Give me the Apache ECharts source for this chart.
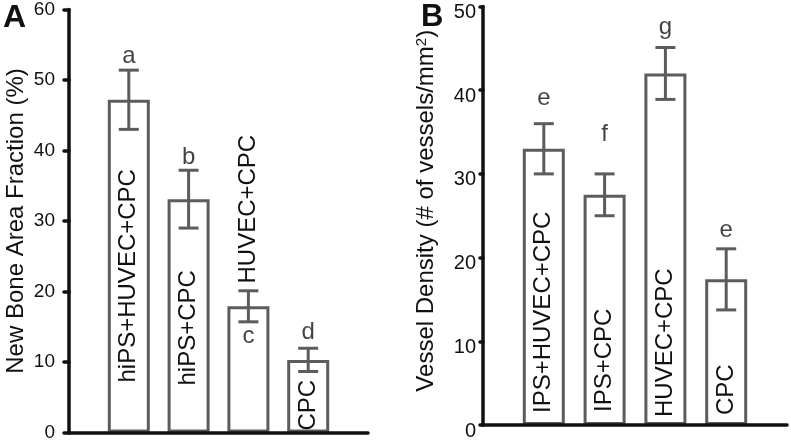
<!DOCTYPE html>
<html>
<head>
<meta charset="utf-8">
<script src="https://cdn.jsdelivr.net/npm/echarts@6/dist/echarts.min.js"></script>
<style>
html,body{margin:0;padding:0;background:#fff;}
#chart{width:791px;height:442px;}
</style>
</head>
<body>
<div id="chart"></div>
<script>
// ---- data ----
const categoriesA = ['hiPS+HUVEC+CPC', 'hiPS+CPC', 'HUVEC+CPC', 'CPC'];
const meanA = [47.2, 33.1, 17.9, 10.3];
const errA = [4.2, 4.1, 2.2, 1.65];
const lettersA = ['a', 'b', 'c', 'd'];

const categoriesB = ['IPS+HUVEC+CPC', 'IPS+CPC', 'HUVEC+CPC', 'CPC'];
const meanB = [33.0, 27.5, 42.0, 17.4];
const errB = [3.0, 2.5, 3.1, 3.65];
const lettersB = ['e', 'f', 'g', 'e'];

const yTicksA = [0, 10, 20, 30, 40, 50, 60];
const yTicksB = [0, 10, 20, 30, 40, 50];

const yNameA = 'New Bone Area Fraction (%)';
const yNameB = 'Vessel Density (# of vessels/mm{sup|2})';

// ---- styling ----
const FONT = '"Liberation Sans", Arial, Helvetica, sans-serif';
const GRAY = '#5c5c5c';
const BLACK = '#111';

const chart = echarts.init(document.getElementById('chart'), null, {renderer: 'canvas'});

function errorSeries(means, errs, axisIdx) {
  return {
    type: 'custom',
    xAxisIndex: axisIdx, yAxisIndex: axisIdx,
    z: 4,
    data: means.map((m, i) => [i, m + errs[i], m - errs[i]]),
    renderItem: function (params, api) {
      const hi = api.coord([api.value(0), api.value(1)]);
      const lo = api.coord([api.value(0), api.value(2)]);
      const hw = 10;
      const st = {stroke: GRAY, lineWidth: 3};
      return {
        type: 'group',
        children: [
          {type: 'line', shape: {x1: hi[0], y1: hi[1], x2: lo[0], y2: lo[1]}, style: st},
          {type: 'line', shape: {x1: hi[0] - hw, y1: hi[1], x2: hi[0] + hw, y2: hi[1]}, style: st},
          {type: 'line', shape: {x1: lo[0] - hw, y1: lo[1], x2: lo[0] + hw, y2: lo[1]}, style: st}
        ]
      };
    }
  };
}

function barSeries(cats, means, axisIdx, dists) {
  return {
    type: 'bar',
    xAxisIndex: axisIdx, yAxisIndex: axisIdx,
    barWidth: 42,
    z: 2,
    itemStyle: {color: '#fff', borderColor: GRAY, borderWidth: 3},
    label: {
      show: true, position: 'insideBottom', rotate: 90, align: 'left', verticalAlign: 'middle',
      fontFamily: FONT, fontSize: 24, color: BLACK,
      formatter: p => cats[p.dataIndex]
    },
    data: means.map((m, i) => ({value: m, label: {distance: dists[i]}}))
  };
}

function letterSeries(letters, means, errs, axisIdx, places) {
  return {
    type: 'scatter',
    xAxisIndex: axisIdx, yAxisIndex: axisIdx,
    symbolSize: 1,
    itemStyle: {color: 'rgba(0,0,0,0)'},
    z: 6,
    label: {
      show: true, fontFamily: FONT, fontSize: 24, color: BLACK,
      formatter: p => letters[p.dataIndex]
    },
    data: means.map((m, i) => ({
      value: [i, places[i].pos === 'bottom' ? m - errs[i] : m + errs[i]],
      label: {position: places[i].pos, distance: places[i].d}
    }))
  };
}

const axisLineStyle = {color: BLACK, width: 3.5, cap: 'round'};

const option = {
  backgroundColor: '#fff',
  animation: false,
  title: [
    {text: 'A', left: 3, top: 2, padding: 0, textStyle: {fontFamily: FONT, fontSize: 32, fontWeight: 'bold', color: BLACK}},
    {text: 'B', left: 421, top: 2, padding: 0, textStyle: {fontFamily: FONT, fontSize: 31, fontWeight: 'bold', color: BLACK}}
  ],
  grid: [
    {left: 69, top: 5, width: 299, height: 427.5},
    {left: 483, top: 6.5, width: 304, height: 418.5}
  ],
  xAxis: [
    {
      gridIndex: 0, type: 'category', data: categoriesA, boundaryGap: false,
      min: -0.54, max: 3.51, z: 8,
      axisLine: {lineStyle: axisLineStyle}, axisTick: {show: false}, axisLabel: {show: false}
    },
    {
      gridIndex: 1, type: 'category', data: categoriesB, boundaryGap: false,
      min: -0.597, max: 3.625, z: 8,
      axisLine: {lineStyle: axisLineStyle}, axisTick: {show: false}, axisLabel: {show: false}
    }
  ],
  yAxis: [
    {
      gridIndex: 0, type: 'value', min: yTicksA[0], max: yTicksA[yTicksA.length - 1], interval: 10, z: 8,
      splitLine: {show: false},
      axisLine: {show: true, lineStyle: axisLineStyle},
      axisTick: {show: true, length: 5, lineStyle: {color: BLACK, width: 3.5, cap: 'round'}},
      axisLabel: {fontFamily: FONT, fontSize: 19, color: BLACK, margin: 14},
      name: yNameA, nameLocation: 'middle', nameRotate: 90, nameGap: 41,
      nameTextStyle: {fontFamily: FONT, fontSize: 24, color: BLACK}
    },
    {
      gridIndex: 1, type: 'value', min: yTicksB[0], max: yTicksB[yTicksB.length - 1], interval: 10, z: 8,
      splitLine: {show: false},
      axisLine: {show: true, lineStyle: axisLineStyle},
      axisTick: {show: true, length: 3, lineStyle: {color: BLACK, width: 3.5, cap: 'round'}},
      axisLabel: {fontFamily: FONT, fontSize: 20, color: BLACK, margin: 7, verticalAlign: 'top', lineHeight: 12},
      name: yNameB, nameLocation: 'middle', nameRotate: 90, nameGap: 45,
      nameTextStyle: {
        fontFamily: FONT, fontSize: 24, color: BLACK, padding: [0, 0, 0, 10],
        rich: {sup: {fontFamily: FONT, fontSize: 15, color: BLACK, verticalAlign: 'top', lineHeight: 14}}
      }
    }
  ],
  series: [
    barSeries(categoriesA, meanA, 0, [50, 47, 149, 2]),
    errorSeries(meanA, errA, 0),
    letterSeries(lettersA, meanA, errA, 0, [
      {pos: 'top', d: 1}, {pos: 'top', d: 0}, {pos: 'bottom', d: 2}, {pos: 'top', d: 3}
    ]),
    barSeries(categoriesB, meanB, 1, [12, 13, 8, 10]),
    errorSeries(meanB, errB, 1),
    letterSeries(lettersB, meanB, errB, 1, [
      {pos: 'top', d: 13}, {pos: 'top', d: 27}, {pos: 'top', d: 8}, {pos: 'top', d: 6}
    ])
  ]
};

chart.setOption(option);
</script>
</body>
</html>
